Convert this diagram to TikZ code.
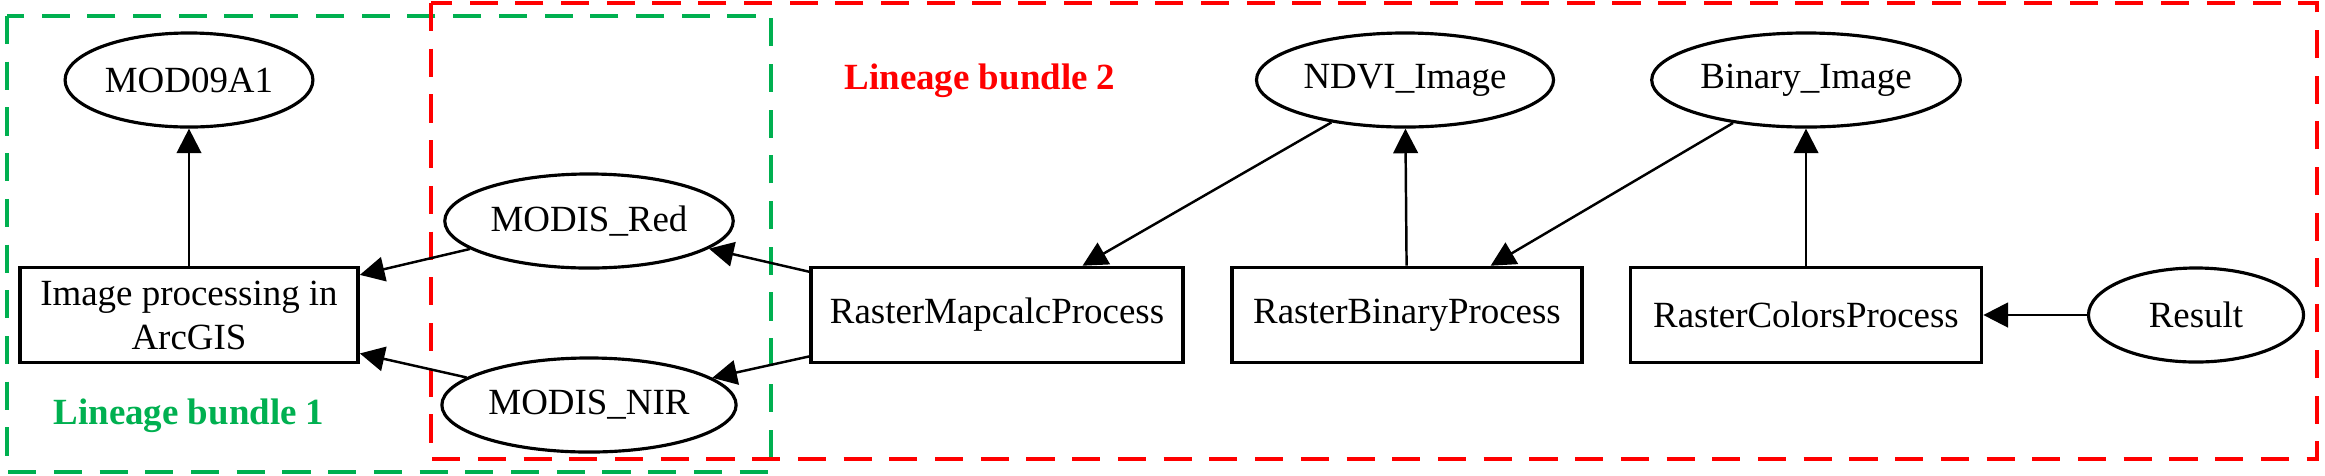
\documentclass[tikz,border=0pt]{standalone}
\usepackage{fontspec}
\setmainfont{Liberation Serif}
\usetikzlibrary{shapes.geometric,arrows.meta}
\definecolor{bundlegreen}{RGB}{0,176,80}
\definecolor{bundlered}{RGB}{255,0,0}
\begin{document}
\begin{tikzpicture}[
    x=0.01cm,
    y=-0.01cm,
    font=\fontsize{10.5}{12.5}\selectfont,
    data/.style={draw, ellipse, line width=0.9pt, inner sep=1pt,
      minimum height=0.94cm},
    process/.style={draw, rectangle, line width=1pt, inner sep=2pt,
      minimum height=0.95cm, align=center},
    edge/.style={line width=0.7pt, -{Triangle[length=7pt,width=7pt]}},
    bundle/.style={line width=0.95pt, dash pattern=on 8pt off 5pt}
  ]
    \useasboundingbox (0,0) rectangle (2325,475);

    % Lineage bundles
    \draw[bundle, bundlegreen] (7,16) rectangle (771,472);
    \draw[bundle, bundlered] (431,3) rectangle (2317,459);
    \node[text=bundlegreen, font=\fontsize{10.5}{12.5}\selectfont\bfseries]
      (lb1) at (189,416) {Lineage bundle 1};
    \node[text=bundlered, font=\fontsize{10.5}{12.5}\selectfont\bfseries]
      (lb2) at (980,81) {Lineage bundle 2};

    % --- Top row (data) ---
    \node[data, minimum width=2.38cm] (mod) at (189,80) {MOD09A1};
    \node[data, minimum width=2.81cm] (ndvi) at (1405,80) {NDVI\_Image};
    \node[data, minimum width=2.82cm] (binimg) at (1806,80) {Binary\_Image};

    % --- Bands ---
    \node[data, minimum width=2.69cm] (red) at (589,221) {MODIS\_Red};
    \node[data, minimum width=2.69cm] (nir) at (589,405) {MODIS\_NIR};

    % --- Processes ---
    \node[process, minimum width=3.38cm] (imgproc) at (189,315)
      {Image processing in\\ArcGIS};
    \node[process, minimum width=3.72cm] (mapcalc) at (997,315)
      {RasterMapcalcProcess};
    \node[process, minimum width=3.50cm] (binproc) at (1407,315)
      {RasterBinaryProcess};
    \node[process, minimum width=3.51cm] (colproc) at (1806,315)
      {RasterColorsProcess};
    \node[data, minimum width=2.15cm] (result) at (2196,315) {Result};

    % Lineage edges
    \draw[edge] (imgproc) -- (mod);
    \draw[edge] (red) -- (imgproc);
    \draw[edge] (nir) -- (imgproc);
    \draw[edge] (mapcalc) -- (red);
    \draw[edge] (mapcalc) -- (nir);
    \draw[edge] (ndvi) -- (mapcalc);
    \draw[edge] (binproc) -- (ndvi);
    \draw[edge] (binimg) -- (binproc);
    \draw[edge] (colproc) -- (binimg);
    \draw[edge] (result) -- (colproc);
  \end{tikzpicture}
\end{document}
